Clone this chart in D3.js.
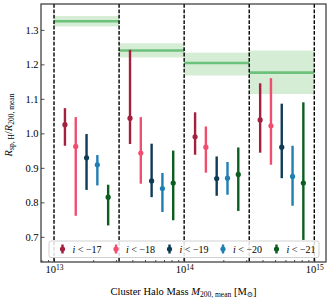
<!DOCTYPE html>
<html>
<head>
<meta charset="utf-8">
<script src="https://cdn.jsdelivr.net/npm/d3@7"></script>
<style>
	body { margin: 0; background: #fff; }
	svg { display: block; font-family: "Liberation Serif", "DejaVu Serif", serif; }
</style>
</head>
<body>
<svg id="chart" width="332" height="300"></svg>
<script>

// Data
// ==============================================

var binEdges = [1e13, Math.pow(10, 13.5), 1e14, Math.pow(10, 14.5), 1e15];
var binCenters = [Math.pow(10, 13.25), Math.pow(10, 13.75), Math.pow(10, 14.25), Math.pow(10, 14.75)];

// green band: splashback radius of the reference sample, per mass bin
var bandMid = [1.325, 1.240, 1.204, 1.176];
var bandLow = [1.310, 1.220, 1.168, 1.114];
var bandHigh = [1.340, 1.261, 1.234, 1.240];

var magCuts = [-17, -18, -19, -20, -21];
var magColors = ["#a3203f", "#f04e6e", "#0f3b57", "#1f7fb3", "#0b5e1f"];
var dodgeDex = [-0.166, -0.083, 0, 0.083, 0.166];

// one row per magnitude cut, one value per mass bin
var ratioMid = [
	[1.025, 1.044, 0.990, 1.039],
	[0.962, 0.943, 0.960, 1.022],
	[0.929, 0.862, 0.869, 0.960],
	[0.909, 0.840, 0.870, 0.875],
	[0.815, 0.856, 0.881, 0.856]
];
var ratioLow = [
	[0.964, 0.969, 0.938, 0.944],
	[0.761, 0.854, 0.886, 0.909],
	[0.836, 0.815, 0.819, 0.870],
	[0.849, 0.772, 0.822, 0.790],
	[0.733, 0.748, 0.775, 0.691]
];
var ratioHigh = [
	[1.073, 1.242, 1.061, 1.145],
	[1.047, 1.047, 1.020, 1.160],
	[0.998, 0.970, 0.933, 1.086],
	[0.937, 0.885, 0.917, 0.964],
	[0.851, 0.950, 0.959, 1.090]
];

var xTicks = [1e13, 1e14, 1e15];
var yTicks = [0.7, 0.8, 0.9, 1.0, 1.1, 1.2, 1.3];

// Layout
// ==============================================

var width = 332, height = 300,
	margin = {top: 4, right: 6, bottom: 38, left: 41},
	innerW = width - margin.left - margin.right,
	innerH = height - margin.top - margin.bottom;

var svg = d3.select("#chart");
var g = svg.append("g").attr("transform", "translate(" + margin.left + "," + margin.top + ")");

var xScale = d3.scaleLog()
	.domain([Math.pow(10, 12.9), Math.pow(10, 15.09)])
	.range([0, innerW]);

var yScale = d3.scaleLinear()
	.domain([0.627, 1.375])
	.range([innerH, 0]);

g.append("clipPath").attr("id", "plot-clip")
	.append("rect").attr("width", innerW).attr("height", innerH);

var plot = g.append("g").attr("clip-path", "url(#plot-clip)");

// Green bands
// ==============================================

var bins = d3.range(bandMid.length);

plot.selectAll("rect.band")
	.data(bins)
	.enter().append("rect")
		.attr("class", "band")
		.attr("x", function(i){ return xScale(binEdges[i]); })
		.attr("width", function(i){ return xScale(binEdges[i + 1]) - xScale(binEdges[i]); })
		.attr("y", function(i){ return yScale(bandHigh[i]); })
		.attr("height", function(i){ return yScale(bandLow[i]) - yScale(bandHigh[i]); })
		.attr("fill", "#2ca02c")
		.attr("fill-opacity", 0.2);

plot.selectAll("line.band-mid")
	.data(bins)
	.enter().append("line")
		.attr("class", "band-mid")
		.attr("x1", function(i){ return xScale(binEdges[i]); })
		.attr("x2", function(i){ return xScale(binEdges[i + 1]); })
		.attr("y1", function(i){ return yScale(bandMid[i]); })
		.attr("y2", function(i){ return yScale(bandMid[i]); })
		.attr("stroke", "#6cc17b")
		.attr("stroke-width", 2.6);

// Bin edges
// ==============================================

plot.selectAll("line.edge")
	.data(binEdges)
	.enter().append("line")
		.attr("class", "edge")
		.attr("x1", function(d){ return xScale(d); })
		.attr("x2", function(d){ return xScale(d); })
		.attr("y1", 0)
		.attr("y2", innerH)
		.attr("stroke", "#000")
		.attr("stroke-width", 1.4)
		.attr("stroke-dasharray", "3.8,1.6");

// Error bars
// ==============================================

var points = [];
magCuts.forEach(function(m, s){
	bins.forEach(function(b){
		points.push({
			s: s,
			mass: binCenters[b] * Math.pow(10, dodgeDex[s]),
			mid: ratioMid[s][b],
			lo: ratioLow[s][b],
			hi: ratioHigh[s][b]
		});
	});
});

var pts = plot.selectAll("g.pt")
	.data(points)
	.enter().append("g")
		.attr("class", "pt");

pts.append("line")
	.attr("x1", function(d){ return xScale(d.mass); })
	.attr("x2", function(d){ return xScale(d.mass); })
	.attr("y1", function(d){ return yScale(d.lo); })
	.attr("y2", function(d){ return yScale(d.hi); })
	.attr("stroke", function(d){ return magColors[d.s]; })
	.attr("stroke-width", 2.4);

pts.append("circle")
	.attr("cx", function(d){ return xScale(d.mass); })
	.attr("cy", function(d){ return yScale(d.mid); })
	.attr("r", 2.6)
	.attr("fill", function(d){ return magColors[d.s]; });

// Axes
// ==============================================

var yAxis = g.append("g")
	.call(d3.axisLeft(yScale).tickValues(yTicks).tickSize(-3.5).tickPadding(2.5)
		.tickFormat(d3.format(".1f")));

var xMinor = [];
[12, 13, 14].forEach(function(e){
	for (var k = 2; k <= 9; k++) xMinor.push(k * Math.pow(10, e));
});
xMinor = xMinor.filter(function(v){ return v > xScale.domain()[0] && v < xScale.domain()[1]; });

g.append("g")
	.attr("transform", "translate(0," + innerH + ")")
	.call(d3.axisBottom(xScale).tickValues(xMinor).tickSize(-2).tickFormat(""));

var xAxis = g.append("g")
	.attr("transform", "translate(0," + innerH + ")")
	.call(d3.axisBottom(xScale).tickValues(xTicks).tickSize(-3.5).tickPadding(4).tickFormat(""));

xAxis.selectAll(".tick text").each(function(d){
	var t = d3.select(this);
	t.append("tspan").text("10");
	t.append("tspan").attr("dy", "-0.5em").attr("font-size", "7.5px").text(Math.round(Math.log10(d)));
});

g.selectAll(".domain").remove();
g.selectAll(".tick line").attr("stroke", "#222").attr("stroke-width", 0.8);
g.selectAll(".tick text").attr("font-size", "10.5px").attr("fill", "#000")
	.attr("font-family", "'Liberation Serif', serif");

g.append("rect")
	.attr("width", innerW)
	.attr("height", innerH)
	.attr("fill", "none")
	.attr("stroke", "#333")
	.attr("stroke-width", 1.2);

// Legend
// ==============================================

var legend = g.append("g").attr("transform", "translate(8," + (innerH - 21) + ")");

legend.append("rect")
	.attr("width", 270)
	.attr("height", 16.5)
	.attr("rx", 2)
	.attr("fill", "#fff")
	.attr("fill-opacity", 0.85)
	.attr("stroke", "#ccc")
	.attr("stroke-width", 0.9);

var items = legend.selectAll("g.item")
	.data(magCuts)
	.enter().append("g")
		.attr("class", "item")
		.attr("transform", function(d, i){ return "translate(" + (13.5 + i * 53.5) + ",8)"; });

items.append("line")
	.attr("y1", -4.5).attr("y2", 4.5)
	.attr("stroke", function(d, i){ return magColors[i]; })
	.attr("stroke-width", 2.4);

items.append("circle")
	.attr("r", 2.6)
	.attr("fill", function(d, i){ return magColors[i]; });

var lt = items.append("text")
	.attr("x", 10)
	.attr("y", 3.5)
	.attr("font-size", "10px");
lt.append("tspan").attr("font-style", "italic").text("i");
lt.append("tspan").text(function(d){ return " < \u2212" + Math.abs(d); });

// Axis titles
// ==============================================

var xt = svg.append("text")
	.attr("x", margin.left + innerW / 2)
	.attr("y", 295)
	.attr("text-anchor", "middle")
	.attr("font-size", "10.5px");
xt.append("tspan").text("Cluster Halo Mass ");
xt.append("tspan").attr("font-style", "italic").text("M");
xt.append("tspan").attr("font-size", "7.5px").attr("dy", "2").text("200, mean");
xt.append("tspan").attr("dy", "-2").text(" [M");
xt.append("tspan").attr("font-size", "7.5px").attr("dy", "2").text("\u2299");
xt.append("tspan").attr("dy", "-2").text("]");

var yt = svg.append("text")
	.attr("transform", "translate(12," + (margin.top + innerH / 2 - 8) + ") rotate(-90)")
	.attr("text-anchor", "middle")
	.attr("font-size", "10.5px");
yt.append("tspan").attr("font-style", "italic").text("R");
yt.append("tspan").attr("font-size", "7.5px").attr("dy", "2").text("sp, H");
yt.append("tspan").attr("dy", "-2").text("/");
yt.append("tspan").attr("font-style", "italic").text("R");
yt.append("tspan").attr("font-size", "7.5px").attr("dy", "2").text("200, mean");

</script>
</body>
</html>
